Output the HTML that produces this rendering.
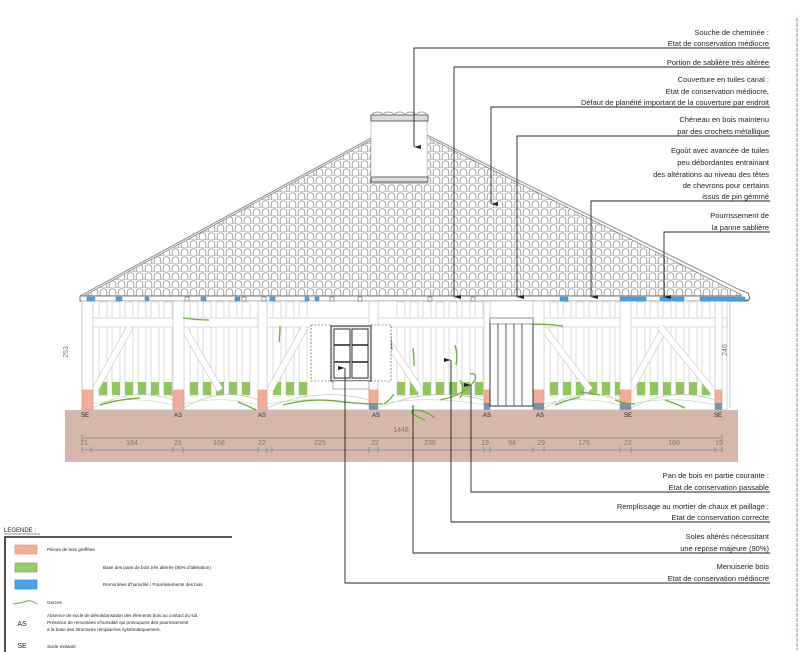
<!DOCTYPE html>
<html><head><meta charset="utf-8"><style>
html,body{margin:0;padding:0;background:#fff;width:800px;height:652px;overflow:hidden}
svg{display:block}
text{font-family:"Liberation Sans",sans-serif}
.a{font-size:7.5px;fill:#222;text-anchor:end}
.d{font-size:7px;fill:#777;text-anchor:middle}
.l{font-size:4.6px;fill:#222}
</style></head><body>
<svg id="s" width="800" height="652" viewBox="0 0 800 652" xmlns="http://www.w3.org/2000/svg">
<defs>
<pattern id="tile" width="9" height="8" patternUnits="userSpaceOnUse">
<path d="M1.2,8 V4 A3.3,3.3 0 0 1 7.8,4 V8" fill="none" stroke="#888" stroke-width="0.75"/>
<path d="M0,7.6 H9" stroke="#aaa" stroke-width="0.5"/>
</pattern>
<pattern id="pk" width="3" height="3" patternUnits="userSpaceOnUse"><rect width="3" height="3" fill="#f2b3a2"/><path d="M0,3 L3,0" stroke="#e8907a" stroke-width="0.5"/></pattern>
<marker id="ar" markerUnits="userSpaceOnUse" markerWidth="6" markerHeight="8" refX="3" refY="7" orient="auto"><path d="M1,0 L3,7 L5,0 Z" fill="#222"/></marker>
</defs>

<!-- roof -->
<polygon points="80,298 371,140 427,137 748,298" fill="url(#tile)" stroke="#888" stroke-width="0.8"/>
<line x1="80" y1="296" x2="371" y2="138" stroke="#999" stroke-width="1.2"/>
<line x1="427" y1="135" x2="748" y2="294" stroke="#999" stroke-width="1.2"/>
<rect x="80" y="296" width="668" height="5" fill="#fff" stroke="#555" stroke-width="0.8"/>
<path d="M740,290 l8,3 l2,6 l-6,2" fill="#fff" stroke="#555" stroke-width="0.8"/>

<!-- chimney -->
<rect x="371" y="117" width="56" height="66" fill="#fff" stroke="#bbb" stroke-width="0.8"/>
<rect x="371" y="115" width="57" height="6" fill="#ddd" stroke="#444" stroke-width="0.8"/>
<rect x="371" y="177" width="57" height="5" fill="#ddd" stroke="#444" stroke-width="0.8"/>
<path d="M372,115 a6,5 0 0 1 11,0 a6,5 0 0 1 11,0 a6,5 0 0 1 11,0 a6,5 0 0 1 11,0 a6,5 0 0 1 11,0" fill="none" stroke="#999"/>

<!-- ground -->
<rect x="65" y="410" width="673" height="52" fill="#d6b7ac"/>

<g id="wall"></g>

<!-- window -->
<rect x="311" y="325" width="20" height="56" fill="#fff" stroke="#333" stroke-width="0.6" stroke-dasharray="2,1.5"/>
<rect x="371" y="325" width="20" height="56" fill="#fff" stroke="#333" stroke-width="0.6" stroke-dasharray="2,1.5"/>
<rect x="331" y="326" width="40" height="55" fill="#eee" stroke="#444" stroke-width="1.2"/>
<rect x="334" y="329" width="16" height="49" fill="#fff" stroke="#333" stroke-width="1"/>
<rect x="352" y="329" width="16" height="49" fill="#fff" stroke="#333" stroke-width="1"/>
<path d="M334,345 h16 M334,362 h16 M352,345 h16 M352,362 h16" stroke="#222" stroke-width="1.4"/>
<rect x="333" y="381" width="36" height="8" fill="#fff" stroke="#666" stroke-width="0.5"/>
<!-- door -->
<rect x="490" y="320" width="43" height="86" fill="#fff" stroke="#333" stroke-width="1"/>
<path d="M498,321 V405 M506,321 V405 M514,321 V405 M522,321 V405" stroke="#333" stroke-width="0.8"/>
<rect x="490" y="318" width="43" height="6" fill="#fff" stroke="#555" stroke-width="0.6"/>

<!-- dims on ground -->
<line x1="82" y1="438" x2="722" y2="438" stroke="#888" stroke-width="0.8"/>
<path d="M82,434v8 M722,434v8" stroke="#888" stroke-width="0.8"/>
<text class="d" x="401" y="432">1448</text>
<g id="dim"></g>
<text class="d" x="68" y="352" transform="rotate(-90 68 352)">253</text>
<text class="d" x="727" y="350" transform="rotate(-90 727 350)">246</text>
<line x1="730" y1="300" x2="730" y2="408" stroke="#aaa" stroke-width="0.6"/>

<!-- annotations -->
<g fill="none" stroke="#222" stroke-width="0.9">
<polyline points="770,48 414,48 414,147" marker-end="url(#ar)"/>
<polyline points="770,67 454,67 454,297" marker-end="url(#ar)"/>
<polyline points="770,107 491,107 491,204" marker-end="url(#ar)"/>
<polyline points="770,136 517,136 517,297" marker-end="url(#ar)"/>
<polyline points="770,201 591,201 591,297" marker-end="url(#ar)"/>
<polyline points="770,232 664,232 664,297" marker-end="url(#ar)"/>
<polyline points="770,492 471,492 471,385" marker-end="url(#ar)"/>
<polyline points="770,522 451,522 451,360" marker-end="url(#ar)"/>
<polyline points="770,553 413,553 413,405"/>
<polyline points="770,583 345,583 345,368" marker-end="url(#ar)"/>
</g>
<text class="a" x="769" y="35">Souche de cheminée :</text>
<text class="a" x="769" y="46">Etat de conservation médiocre</text>
<text class="a" x="769" y="65">Portion de sablière très altérée</text>
<text class="a" x="769" y="82">Couverture en tuiles canal :</text>
<text class="a" x="769" y="94">Etat de conservation médiocre,</text>
<text class="a" x="769" y="105">Défaut de planéité important de la couverture par endroit</text>
<text class="a" x="769" y="122">Chéneau en bois maintenu</text>
<text class="a" x="769" y="134">par des crochets métallique</text>
<text class="a" x="769" y="153">Egoût avec avancée de tuiles</text>
<text class="a" x="769" y="165">peu débordantes entrainant</text>
<text class="a" x="769" y="177">des altérations au niveau des têtes</text>
<text class="a" x="769" y="188">de chevrons pour certains</text>
<text class="a" x="769" y="199">issus de pin gémmé</text>
<text class="a" x="769" y="218">Pourrissement de</text>
<text class="a" x="769" y="230">la panne sablière</text>
<text class="a" x="769" y="478">Pan de bois en partie courante :</text>
<text class="a" x="769" y="490">Etat de conservation passable</text>
<text class="a" x="769" y="509">Remplissage au mortier de chaux et paillage :</text>
<text class="a" x="769" y="520">Etat de conservation correcte</text>
<text class="a" x="769" y="539">Soles altérés nécessitant</text>
<text class="a" x="769" y="551">une reprise majeure (90%)</text>
<text class="a" x="769" y="569">Menuiserie bois</text>
<text class="a" x="769" y="581">Etat de conservation médiocre</text>

<line x1="797" y1="18" x2="797" y2="650" stroke="#8fa0c8" stroke-width="1.2" stroke-dasharray="4,1"/>

<!-- legend -->
<text x="4" y="532" style="font-size:6px;fill:#222">LEGENDE :</text>
<line x1="4" y1="534" x2="40" y2="534" stroke="#222" stroke-width="0.5"/>
<path d="M5,652 V537 H232" fill="none" stroke="#222" stroke-width="1.6"/>
<rect x="15" y="545" width="22" height="9" fill="url(#pk)" stroke="#e08a75" stroke-width="0.6"/>
<text class="l" x="47" y="551">Pièces de bois greffées</text>
<rect x="15" y="563" width="22" height="9" fill="#9ccb6d" stroke="#6ea043" stroke-width="0.6"/>
<text class="l" x="103" y="569">Base des pans de bois très altérée (80% d'altération)</text>
<rect x="15" y="580" width="22" height="9" fill="#4aa3e8" stroke="#2a7fc0" stroke-width="0.6"/>
<text class="l" x="103" y="586">Remontées d'humidité / Pourrissements des bois</text>
<path d="M13,604 q8,-1 14,-3 q5,-1 10,3" fill="none" stroke="#6aad3a" stroke-width="1"/>
<text class="l" x="47" y="604">Gerces</text>
<text x="22" y="626" style="font-size:7px;fill:#222" text-anchor="middle">AS</text>
<text class="l" x="47" y="617">Absence de socle de désolidarisation des éléments bois au contact du sol.</text>
<text class="l" x="47" y="624">Présence de remontées d'humidité qui provoquent des pourrissement</text>
<text class="l" x="47" y="631">à la base des structures remplacées systématiquement.</text>
<text x="22" y="648" style="font-size:7px;fill:#222" text-anchor="middle">SE</text>
<text class="l" x="47" y="648">Socle existant</text>
</svg>
<script>
(function(){
var NS="http://www.w3.org/2000/svg";
function el(p,t,a){var e=document.createElementNS(NS,t);for(var k in a)e.setAttribute(k,a[k]);p.appendChild(e);return e;}
var w=document.getElementById('wall');
el(w,'rect',{x:82,y:301,width:645,height:109,fill:'#fff'});
var posts=[[82,93],[173,184],[258,267],[369,378],[484,490],[533,544],[620,631],[715,722]];
for(var i=0;i<posts.length-1;i++){
  var a=posts[i][1],b=posts[i+1][0];
  for(var x=a+6;x<b-4;x+=13){
    if(x>308&&x<393) continue; if(x>487&&x<535) continue;
    el(w,'rect',{x:x,y:302,width:8,height:94,fill:'#fff',stroke:'#c4c4c4','stroke-width':0.6});
    el(w,'rect',{x:x,y:382,width:8,height:13,fill:'#92c560'});
  }
}
el(w,'rect',{x:82,y:318,width:645,height:9,fill:'#fff',stroke:'#c4c4c4','stroke-width':0.6});
[[95,390,130,327],[185,330,220,390],[270,390,305,327],[380,330,420,390],[545,330,590,390],[630,390,665,327],[660,327,712,390]].forEach(function(b){
 el(w,'line',{x1:b[0],y1:b[1],x2:b[2],y2:b[3],stroke:'#c4c4c4','stroke-width':7});
 el(w,'line',{x1:b[0],y1:b[1],x2:b[2],y2:b[3],stroke:'#fff','stroke-width':5.8});
});
for(var i=0;i<posts.length-1;i++){
  var a=posts[i][1],b=posts[i+1][0];
  if(a>485&&b<535) continue;
  el(w,'path',{d:'M'+a+',408 Q'+((a+b)/2)+',386 '+b+',400 L'+b+',410 L'+a+',410 Z',fill:'#fff',stroke:'#bbb','stroke-width':0.6});
  el(w,'path',{d:'M'+a+',404 Q'+((a+b)/2)+',395 '+b+',405',fill:'none',stroke:'#ccc','stroke-width':0.6});
}
posts.forEach(function(p,i){
  el(w,'rect',{x:p[0],y:301,width:p[1]-p[0],height:109,fill:'#fff',stroke:'#bbb','stroke-width':0.6});
  var blue=(i>=3);
  el(w,'rect',{x:p[0],y:390,width:p[1]-p[0],height:blue?14:20,fill:'url(#pk)',stroke:'#e08a75','stroke-width':0.5});
  if(blue) el(w,'rect',{x:p[0],y:403,width:p[1]-p[0],height:7,fill:'#7f8fae'});
});
el(w,'rect',{x:82,y:301,width:645,height:109,fill:'none',stroke:'#bbb','stroke-width':0.6});
var g=['M100,405 q20,-6 40,-7','M238,402 q8,3 18,8','M283,405 q30,-8 60,-3 q20,2 40,2','M384,404 q6,-4 10,-10','M183,318 q15,2 26,2','M280,326 q0,8 -1,16','M390,330 q1,10 2,20','M425,420 q-20,-8 -10,-10 q10,0 20,8','M440,400 q25,-5 35,-20 q2,-8 -5,-6','M523,325 q20,-2 40,1','M555,405 q12,-5 25,-8','M615,400 q10,4 20,4','M665,400 q12,4 20,8','M600,395 q-10,-2 -20,-3','M455,345 q3,10 1,20','M460,380 q5,10 0,18','M413,348 q1,10 1,18','M350,330 q2,8 2,14'];
g.forEach(function(d){el(w,'path',{d:d,fill:'none',stroke:'#6aad3a','stroke-width':1.3});});
[[87,8],[116,6],[145,4],[201,5],[235,5],[270,5],[305,4],[315,4],[560,8],[620,26],[660,24],[700,45]].forEach(function(b){
 el(w,'rect',{x:b[0],y:297,width:b[1],height:4,fill:'#4aa3e8',stroke:'#2a6fa0','stroke-width':0.4});
});
[[185,4],[242,4],[262,4],[330,4],[358,4],[428,4],[471,4]].forEach(function(b){
 el(w,'rect',{x:b[0],y:297,width:b[1],height:4,fill:'#fff',stroke:'#444','stroke-width':0.5});
});
var s=document.getElementById('s');
[['SE',85],['AS',178],['AS',262],['AS',376],['AS',487],['AS',540],['SE',628],['SE',718]].forEach(function(l){
 var t=el(s,'text',{x:l[1],y:417,'text-anchor':'middle',style:'font-size:6px;fill:#222'});t.textContent=l[0];
});
var dm=document.getElementById('dim');
var ticks=[82,91,173,183,258,267,272,369,378,484,490,533,544,620,631,715,722];
el(dm,'line',{x1:82,y1:450,x2:722,y2:450,stroke:'#888','stroke-width':0.8});
ticks.forEach(function(x){el(dm,'line',{x1:x,y1:447,x2:x,y2:453,stroke:'#888','stroke-width':0.8});});
[['21',84],['184',132],['21',178],['168',219],['22',262],['225',320],['22',375],['236',430],['19',485],['94',512],['29',541],['175',584],['22',628],['186',674],['15',719]].forEach(function(l){
 var t=el(dm,'text',{x:l[1],y:445,'class':'d'});t.textContent=l[0];
});
})();
</script>
</body></html>
